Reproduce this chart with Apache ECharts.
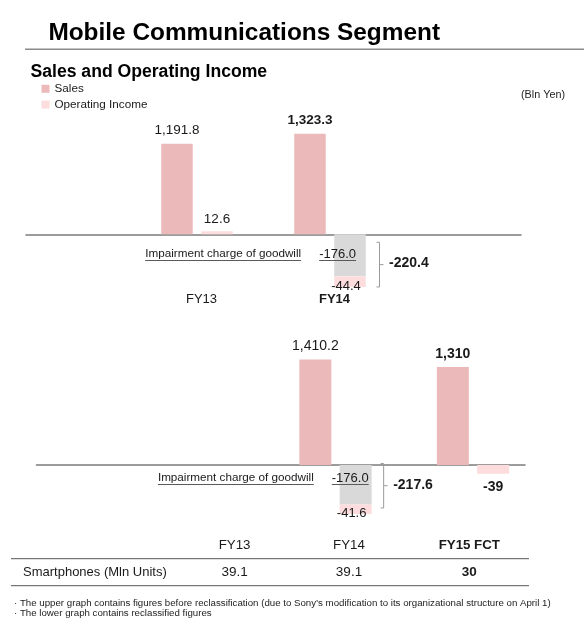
<!DOCTYPE html>
<html>
<head>
<meta charset="utf-8">
<script src="https://cdn.jsdelivr.net/npm/echarts@6/dist/echarts.min.js"></script>
<style>html,body{margin:0;padding:0;background:#fff}#c{width:584px;height:627px}</style>
</head>
<body>
<div id="c"></div>
<script>
// ---------------- DATA ----------------
const upperCategories = ['FY13', 'FY14'];
const upperSales = [1191.8, 1323.3];
const upperImpairment = ['-', -176.0];
const upperOperatingIncome = [12.6, -44.4];        // part excluding impairment
const upperOperatingIncomeTotal = [12.6, -220.4];
const upperDecimals = [1, 1];

const lowerCategories = ['FY13', 'FY14', 'FY15 FCT'];
const lowerSales = ['-', 1410.2, 1310];
const lowerImpairment = ['-', -176.0, '-'];
const lowerOperatingIncome = ['-', -41.6, -39];     // part excluding impairment
const lowerOperatingIncomeTotal = ['-', -217.6, -39];
const lowerDecimals = [1, 1, 0];

const tableHeaders = ['FY13', 'FY14', 'FY15 FCT'];
const smartphoneUnits = [39.1, 39.1, 30];
const smartphoneDecimals = [1, 1, 0];

const legendNames = ['Sales', 'Operating Income'];
const impairmentText = 'Impairment charge of goodwill';
const footnotes = [
  '\u00b7 The upper graph contains figures before reclassification (due to Sony\u2019s modification to its organizational structure on April 1)',
  '\u00b7 The lower graph contains reclassified figures'
];

// ---------------- STYLE / LAYOUT ----------------
const FONT = '"Liberation Sans", Arial, Helvetica, sans-serif';
const TXT = '#1a1a1a';
const SALES_COLOR = '#ecb9ba';
const OI_COLOR = '#fcdcdd';
const IMP_COLOR = '#d9d9d9';
const AXIS_COLOR = '#7c7c7c';
const BRACKET_COLOR = '#9a9a9a';

const UP = { top: 110, zero: 234.3, bottom: 290, salesK: 0.076, oiK: 0.239,
  barsLeft: 130.5, band: 133, lineLeft: 26, lineRight: 521, hl: 1,
  barW: 31.5, gap: 8.5, valueFont: 13.5, impDx: 6, impDy: 14.2 };
const LO = { top: 330, zero: 465, bottom: 525, salesK: 0.0749, oiK: 0.225,
  barsLeft: 129.25, band: 137.5, lineLeft: 36.5, lineRight: 525, hl: 2,
  barW: 32, gap: 8.3, valueFont: 14, impDx: 13, impDy: 7.5 };
const TABLE_X = [234.6, 349, 469.3];

function fmt(v, d) {
  return Number(v).toLocaleString('en-US', { minimumFractionDigits: d, maximumFractionDigits: d });
}
const mctx = document.createElement('canvas').getContext('2d');
function tw(text, size, weight) {
  mctx.font = (weight || 'normal') + ' ' + size + 'px ' + FONT;
  return mctx.measureText(text).width;
}
function ext(L, k) {
  return { min: -(L.bottom - L.zero) / k, max: (L.zero - L.top) / k };
}

function impairmentLabel(L, impArr) {
  const v = impArr.find(x => typeof x === 'number');
  const vs = fmt(v, 1);
  const wa = tw(impairmentText, 11.7), wb = tw(vs, 13);
  return {
    show: true, position: 'insideTop', distance: L.impDy, offset: [L.impDx, 0], align: 'right',
    formatter: p => '{a|' + impairmentText + '}{sp|}{b|' + fmt(p.value, 1) + '}\n{ua|}{sp2|}{ub|}',
    rich: {
      a: { fontSize: 11.7, fontFamily: FONT, color: TXT, lineHeight: 11, verticalAlign: 'middle' },
      b: { fontSize: 13, fontFamily: FONT, color: TXT, lineHeight: 11, verticalAlign: 'middle' },
      sp: { width: 18, lineHeight: 11 },
      sp2: { width: 18, height: 1, lineHeight: 2 },
      ua: { width: wa, height: 1, lineHeight: 2, backgroundColor: '#5a5a5a' },
      ub: { width: wb, height: 1, lineHeight: 2, backgroundColor: '#5a5a5a' }
    }
  };
}

function oiData(L, oiArr, impArr, dec) {
  return oiArr.map((v, i) => {
    if (typeof v !== 'number') return '-';
    const hasImp = typeof impArr[i] === 'number';
    const bold = (i === L.hl) && !hasImp;
    let lab;
    if (v >= 0) lab = { position: 'top', distance: 5 };
    else if (hasImp) lab = { position: 'bottom', distance: -7, offset: [-4, 0], fontSize: 13 };
    else lab = { position: 'bottom', distance: 6 };
    lab.fontWeight = bold ? 'bold' : 'normal';
    lab.formatter = () => fmt(v, dec[i]);
    return { value: v, label: lab };
  });
}
function salesData(L, arr, dec) {
  return arr.map((v, i) => {
    if (typeof v !== 'number') return '-';
    return { value: v, label: { fontWeight: i === L.hl ? 'bold' : 'normal', formatter: () => fmt(v, dec[i]) } };
  });
}

function bracketRenderer(offsetX, topPad, botPad) {
  return function (params, api) {
    if (!api.value(2)) return null;
    const c0 = api.coord([api.value(0), 0]);
    const c1 = api.coord([api.value(0), api.value(1)]);
    const x = c0[0] + offsetX;
    const yTop = c0[1] + topPad, yBot = c1[1] - botPad;
    const ym = (yTop + yBot) / 2;
    return {
      type: 'group',
      children: [
        { type: 'polyline', shape: { points: [[x - 3, yTop], [x, yTop], [x, yBot], [x - 3, yBot]] },
          style: { stroke: BRACKET_COLOR, lineWidth: 1, fill: null } },
        { type: 'line', shape: { x1: x, y1: ym, x2: x + 4, y2: ym },
          style: { stroke: BRACKET_COLOR, lineWidth: 1 } },
        { type: 'text', x: x + 9.5, y: ym - 1,
          style: { text: fmt(api.value(1), 1), fontSize: 14, fontWeight: 'bold', fontFamily: FONT, fill: TXT,
                   textAlign: 'left', textVerticalAlign: 'middle', align: 'left', verticalAlign: 'middle' } }
      ]
    };
  };
}

const upS = ext(UP, UP.salesK), upO = ext(UP, UP.oiK);
const loS = ext(LO, LO.salesK), loO = ext(LO, LO.oiK);

function textEl(text, x, y, size, opts) {
  opts = opts || {};
  return { type: 'text', x: x, y: y, silent: true,
    style: { text: text, fontSize: size, fontWeight: opts.bold ? 'bold' : 'normal', fontFamily: FONT,
      fill: opts.color || TXT, textAlign: opts.align || 'left', align: opts.align || 'left',
      textVerticalAlign: 'middle', verticalAlign: 'middle' } };
}
function lineEl(x1, y1, x2, y2, color, w) {
  return { type: 'line', silent: true, shape: { x1: x1, y1: y1, x2: x2, y2: y2 }, style: { stroke: color, lineWidth: w } };
}

const graphics = [
  textEl('Mobile Communications Segment', 48.4, 33, 24.4, { bold: true, color: '#000' }),
  lineEl(25, 49.3, 584, 49.3, '#8a8a8a', 1.6),
  textEl('Sales and Operating Income', 30.5, 71.7, 17.6, { bold: true, color: '#000' }),
  textEl('(Bln Yen)', 521, 95, 10.8, { color: '#222' })
];
tableHeaders.forEach((h, i) => graphics.push(textEl(h, TABLE_X[i], 545, 13.3, { align: 'center', bold: i === tableHeaders.length - 1 })));
graphics.push(lineEl(11, 558.7, 529, 558.7, '#555', 1));
graphics.push(textEl('Smartphones (Mln Units)', 23, 572, 13, {}));
smartphoneUnits.forEach((v, i) => graphics.push(textEl(fmt(v, smartphoneDecimals[i]), TABLE_X[i], 572, 13.5, { align: 'center', bold: i === smartphoneUnits.length - 1 })));
graphics.push(lineEl(11, 585.7, 529, 585.7, '#555', 1));
footnotes.forEach((t, i) => graphics.push(textEl(t, 14, 603.3 + i * 10.2, 9.7, { color: '#222' })));

const hiddenAxis = { show: false, splitLine: { show: false } };
const baseLineX = { type: 'category', data: [''], axisLine: { show: true, onZero: true, lineStyle: { color: AXIS_COLOR, width: 1.6 } },
  axisTick: { show: false }, axisLabel: { show: false }, splitLine: { show: false } };

const option = {
  animation: false,
  backgroundColor: '#fff',
  textStyle: { fontFamily: FONT },
  legend: {
    data: legendNames, orient: 'vertical', left: 41.5, top: 82.8, padding: 0,
    itemWidth: 8, itemHeight: 8, itemGap: 3.8, icon: 'rect', selectedMode: false,
    textStyle: { fontSize: 11.7, color: TXT, fontFamily: FONT, padding: [0, 0, 0, 0] }
  },
  grid: [
    { left: UP.barsLeft, top: UP.top, width: UP.band * upperCategories.length, height: UP.bottom - UP.top, outerBoundsMode: 'none' },
    { left: UP.lineLeft, top: UP.top, width: UP.lineRight - UP.lineLeft, height: UP.bottom - UP.top, outerBoundsMode: 'none' },
    { left: LO.barsLeft, top: LO.top, width: LO.band * lowerCategories.length, height: LO.bottom - LO.top, outerBoundsMode: 'none' },
    { left: LO.lineLeft, top: LO.top, width: LO.lineRight - LO.lineLeft, height: LO.bottom - LO.top, outerBoundsMode: 'none' }
  ],
  xAxis: [
    { type: 'category', gridIndex: 0, data: upperCategories, position: 'bottom',
      axisLine: { show: false, onZero: false }, axisTick: { show: false }, splitLine: { show: false },
      axisLabel: { show: true, margin: 2.3, padding: [0, 0, 0, 9], lineHeight: 14,
        formatter: (v, i) => i === UP.hl ? '{b|' + v + '}' : '{n|' + v + '}',
        rich: { b: { fontSize: 13, fontWeight: 'bold', color: TXT, fontFamily: FONT, lineHeight: 14 },
                n: { fontSize: 13, color: TXT, fontFamily: FONT, lineHeight: 14 } } } },
    Object.assign({ gridIndex: 1 }, baseLineX),
    { type: 'category', gridIndex: 2, data: lowerCategories, axisLine: { show: false, onZero: false },
      axisTick: { show: false }, axisLabel: { show: false }, splitLine: { show: false } },
    Object.assign({ gridIndex: 3 }, baseLineX)
  ],
  yAxis: [
    Object.assign({ type: 'value', gridIndex: 0, min: upS.min, max: upS.max }, hiddenAxis),
    Object.assign({ type: 'value', gridIndex: 0, min: upO.min, max: upO.max }, hiddenAxis),
    Object.assign({ type: 'value', gridIndex: 1, min: upS.min, max: upS.max }, hiddenAxis),
    Object.assign({ type: 'value', gridIndex: 2, min: loS.min, max: loS.max }, hiddenAxis),
    Object.assign({ type: 'value', gridIndex: 2, min: loO.min, max: loO.max }, hiddenAxis),
    Object.assign({ type: 'value', gridIndex: 3, min: loS.min, max: loS.max }, hiddenAxis)
  ],
  series: [
    // ---- upper chart ----
    { name: 'Sales', type: 'bar', xAxisIndex: 0, yAxisIndex: 0, barWidth: UP.barW, barGap: (UP.gap / UP.barW * 100) + '%',
      itemStyle: { color: SALES_COLOR },
      label: { show: true, position: 'top', distance: 6, fontSize: UP.valueFont, color: TXT, fontFamily: FONT },
      data: salesData(UP, upperSales, upperDecimals) },
    { name: 'Impairment', type: 'bar', xAxisIndex: 0, yAxisIndex: 1, stack: 'oiUpper', barWidth: UP.barW,
      itemStyle: { color: IMP_COLOR }, label: impairmentLabel(UP, upperImpairment), data: upperImpairment },
    { name: 'Operating Income', type: 'bar', xAxisIndex: 0, yAxisIndex: 1, stack: 'oiUpper', barWidth: UP.barW,
      itemStyle: { color: OI_COLOR },
      label: { show: true, fontSize: UP.valueFont, color: TXT, fontFamily: FONT },
      data: oiData(UP, upperOperatingIncome, upperImpairment, upperDecimals) },
    { name: 'OI total upper', type: 'custom', xAxisIndex: 0, yAxisIndex: 1, silent: true,
      renderItem: bracketRenderer((UP.barW + UP.gap) / 2 + 29.5, 8, 0),
      data: upperOperatingIncomeTotal.map((v, i) => [i, v, typeof upperImpairment[i] === 'number' ? 1 : 0]) },
    // ---- lower chart ----
    { name: 'Sales', type: 'bar', xAxisIndex: 2, yAxisIndex: 3, barWidth: LO.barW, barGap: (LO.gap / LO.barW * 100) + '%',
      itemStyle: { color: SALES_COLOR },
      label: { show: true, position: 'top', distance: 6, fontSize: LO.valueFont, color: TXT, fontFamily: FONT },
      data: salesData(LO, lowerSales, lowerDecimals) },
    { name: 'Impairment', type: 'bar', xAxisIndex: 2, yAxisIndex: 4, stack: 'oiLower', barWidth: LO.barW,
      itemStyle: { color: IMP_COLOR }, label: impairmentLabel(LO, lowerImpairment), data: lowerImpairment },
    { name: 'Operating Income', type: 'bar', xAxisIndex: 2, yAxisIndex: 4, stack: 'oiLower', barWidth: LO.barW,
      itemStyle: { color: OI_COLOR },
      label: { show: true, fontSize: LO.valueFont, color: TXT, fontFamily: FONT },
      data: oiData(LO, lowerOperatingIncome, lowerImpairment, lowerDecimals) },
    { name: 'OI total lower', type: 'custom', xAxisIndex: 2, yAxisIndex: 4, silent: true,
      renderItem: bracketRenderer((LO.barW + LO.gap) / 2 + 28, -1.5, 6),
      data: lowerOperatingIncomeTotal.map((v, i) => [i, v, typeof lowerImpairment[i] === 'number' ? 1 : 0]) }
  ],
  graphic: { elements: graphics }
};

const chart = echarts.init(document.getElementById('c'), null, { renderer: 'canvas' });
chart.setOption(option);
</script>
</body>
</html>
